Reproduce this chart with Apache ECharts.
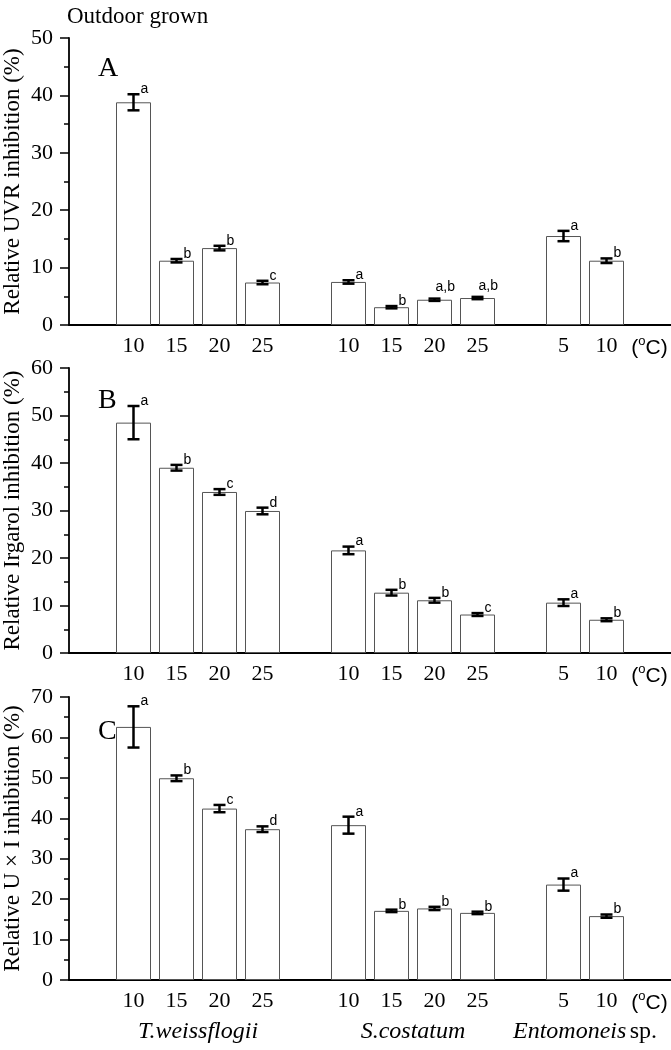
<!DOCTYPE html>
<html lang="en">
<head>
<meta charset="utf-8">
<title>Outdoor grown</title>
<script src="https://cdn.jsdelivr.net/npm/echarts@6/dist/echarts.min.js"></script>
<style type="text/css">
	html, body { margin: 0; padding: 0; background: #fff; }
	#chart { width: 671px; height: 1050px; }
</style>
</head>
<body>
<div id="chart"></div>
<script type="text/javascript">
	// bars: temperature of each bar and the slot it sits in on the x axis (empty slots separate the species)
	var temps = ['10', '15', '20', '25', '10', '15', '20', '25', '5', '10'];
	var slots = [1, 2, 3, 4, 6, 7, 8, 9, 11, 12];
	var slotCount = 14;
	var unitLabel = '(°C)';

	var species = ['T.weissflogii', 'S.costatum', 'Entomoneis'];
	var speciesFrom = [1, 6, 11];
	var speciesTo = [4, 9, 12];

	// panel A: relative UVR inhibition
	var uvrMean = [38.8, 11.2, 13.4, 7.4, 7.5, 3.1, 4.4, 4.7, 15.5, 11.2];
	var uvrErr = [1.4, 0.3, 0.4, 0.3, 0.3, 0.2, 0.2, 0.2, 0.9, 0.4];
	var uvrSig = ['a', 'b', 'b', 'c', 'a', 'b', 'a,b', 'a,b', 'a', 'b'];

	// panel B: relative Irgarol inhibition
	var irgMean = [48.5, 39.0, 33.9, 29.9, 21.6, 12.7, 11.1, 8.1, 10.6, 7.0];
	var irgErr = [3.5, 0.6, 0.6, 0.7, 0.8, 0.6, 0.5, 0.3, 0.7, 0.3];
	var irgSig = ['a', 'b', 'c', 'd', 'a', 'b', 'b', 'c', 'a', 'b'];

	// panel C: relative U x I inhibition
	var uxiMean = [62.6, 49.9, 42.4, 37.3, 38.3, 17.1, 17.7, 16.6, 23.6, 15.8];
	var uxiErr = [5.1, 0.7, 0.9, 0.7, 2.1, 0.3, 0.4, 0.3, 1.5, 0.4];
	var uxiSig = ['a', 'b', 'c', 'd', 'a', 'b', 'b', 'b', 'a', 'b'];

	var yMax = [50, 60, 70];
	var yNames = ['Relative UVR inhibition (%)', 'Relative Irgarol inhibition (%)', 'Relative U \u00d7 I inhibition (%)'];
	var panelLetters = ['A', 'B', 'C'];

	var SERIF = '"Liberation Serif", "Times New Roman", serif';
	var SANS = '"Liberation Sans", Arial, sans-serif';

	// categories of the x axis: one per slot
	var categories = [];
	for (var i = 0; i < slotCount; i++) categories.push('');
	slots.forEach(function (s, k) { categories[s] = temps[k]; });
	categories[slotCount - 1] = unitLabel;

	var panels = [
		{ mean: uvrMean, err: uvrErr, sig: uvrSig, top: 38, height: 287 },
		{ mean: irgMean, err: irgErr, sig: irgSig, top: 368, height: 285 },
		{ mean: uxiMean, err: uxiErr, sig: uxiSig, top: 697, height: 283 }
	];

	var chart = echarts.init(document.getElementById('chart'));

	var grid = [], xAxis = [], yAxis = [], series = [], title = [];

	title.push({
		text: 'Outdoor grown', left: 62, top: 0,
		textStyle: { fontFamily: SERIF, fontSize: 23, fontWeight: 'normal', color: '#000' }
	});

	panels.forEach(function (p, gi) {
		grid.push({ left: 69, right: 0, top: p.top, height: p.height, outerBoundsMode: 'none', containLabel: false });

		title.push({
			text: panelLetters[gi], left: 93, top: p.top + [12, 14, 16][gi],
			textStyle: { fontFamily: SERIF, fontSize: 28, fontWeight: 'normal', color: '#000' }
		});

		xAxis.push({
			gridIndex: gi, type: 'category', data: categories, boundaryGap: true,
			axisLine: { show: true, lineStyle: { color: '#000', width: 1.8 } },
			axisTick: { show: false },
			splitLine: { show: false },
			axisLabel: {
				interval: 0, margin: 10, color: '#000', fontFamily: SERIF, fontSize: 22,
				formatter: function (v) {
					return v === unitLabel ? '{u|(}{s|o}{u|C)}' : v;
				},
				rich: {
					u: { fontFamily: SANS, fontSize: 21, color: '#000', lineHeight: 24, verticalAlign: 'bottom' },
					s: { fontFamily: SANS, fontSize: 13, color: '#000', lineHeight: 24, verticalAlign: 'top' }
				}
			}
		});

		yAxis.push({
			gridIndex: gi, type: 'value', min: 0, max: yMax[gi], interval: 10,
			name: yNames[gi], nameLocation: 'middle', nameRotate: 90, nameGap: 45, nameMoveOverlap: false,
			nameTextStyle: { fontFamily: SERIF, fontSize: 23, color: '#000' },
			axisLine: { show: true, lineStyle: { color: '#000', width: 1.8 } },
			axisTick: { show: true, inside: false, length: 9, lineStyle: { color: '#000', width: 1.5 } },
			minorTick: { show: true, splitNumber: 2, length: 5, lineStyle: { color: '#000', width: 1.5 } },
			splitLine: { show: false },
			axisLabel: { margin: 16, color: '#000', fontFamily: SERIF, fontSize: 22 }
		});

		var barData = [];
		for (var i = 0; i < slotCount; i++) barData.push('-');
		slots.forEach(function (s, k) { barData[s] = p.mean[k]; });

		series.push({
			type: 'bar', xAxisIndex: gi, yAxisIndex: gi, data: barData,
			barWidth: 35, silent: true,
			itemStyle: { color: '#fff', borderColor: '#555', borderWidth: 1 }
		});

		series.push({
			type: 'custom', xAxisIndex: gi, yAxisIndex: gi, silent: true, z: 5,
			data: slots.map(function (s, k) { return [s, p.mean[k], p.err[k]]; }),
			renderItem: function (params, api) {
				var x = api.value(0), m = api.value(1), e = api.value(2);
				var top = api.coord([x, m + e]);
				var bot = api.coord([x, m - e]);
				var cap = 6;
				var ls = { stroke: '#000', lineWidth: 2.5 };
				var sig = p.sig[params.dataIndex];
				var multi = sig.length > 1;
				return {
					type: 'group',
					children: [
						{ type: 'line', shape: { x1: top[0], y1: top[1], x2: bot[0], y2: bot[1] }, style: ls },
						{ type: 'line', shape: { x1: top[0] - cap, y1: top[1], x2: top[0] + cap, y2: top[1] }, style: ls },
						{ type: 'line', shape: { x1: bot[0] - cap, y1: bot[1], x2: bot[0] + cap, y2: bot[1] }, style: ls },
						{
							type: 'text', x: top[0] + (multi ? 1 : 7), y: top[1] + (multi ? -4 : 2),
							style: { text: sig, fill: '#000', font: '14px ' + SANS, align: 'left', verticalAlign: 'bottom' }
						}
					]
				};
			}
		});
	});

	// species names under the bottom panel
	series.push({
		type: 'custom', xAxisIndex: 2, yAxisIndex: 2, silent: true, clip: false,
		data: species.map(function (s, k) { return [speciesFrom[k], speciesTo[k], k]; }),
		renderItem: function (params, api) {
			var a = api.coord([api.value(0), 0]);
			var b = api.coord([api.value(1), 0]);
			var name = species[params.dataIndex];
			var txt = name === 'Entomoneis' ? '{i|Entomoneis} {n|sp.}' : '{i|' + name + '}';
			return {
				type: 'text', x: (a[0] + b[0]) / 2, y: a[1] + 52,
				style: {
					text: txt, align: 'center', verticalAlign: 'middle',
					rich: {
						i: { fontFamily: SERIF, fontStyle: 'italic', fontSize: 24, fill: '#000' },
						n: { fontFamily: SERIF, fontSize: 24, fill: '#000' }
					}
				}
			};
		}
	});

	chart.setOption({
		animation: false,
		title: title,
		grid: grid,
		xAxis: xAxis,
		yAxis: yAxis,
		series: series
	});
</script>
</body>
</html>
